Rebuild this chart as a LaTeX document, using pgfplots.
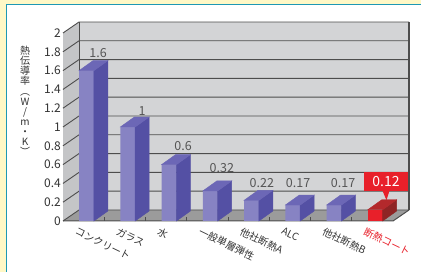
\documentclass[border=0pt]{standalone}
\usepackage{pgfplots}
\pgfplotsset{compat=1.18}
\usepackage{pgfplotstable}
\usepackage{fontspec}
\setmainfont{Noto Sans CJK JP}
\definecolor{bgyel}{HTML}{FFF8C6}
\definecolor{frameteal}{HTML}{1E98B4}
\definecolor{wallback}{HTML}{D3D4D6}
\definecolor{wallside}{HTML}{C4C5C7}
\definecolor{floorg}{HTML}{9B9B9B}
\definecolor{gridd}{HTML}{4D4D4D}
\definecolor{pfront}{HTML}{8783C3}
\definecolor{pside}{HTML}{5450A4}
\definecolor{ptop}{HTML}{6C67B6}
\definecolor{rfront}{HTML}{E8202A}
\definecolor{rside}{HTML}{8E2425}
\definecolor{rtop}{HTML}{B3292C}
\definecolor{tickc}{HTML}{333333}
\definecolor{valc}{HTML}{555555}
\pgfdeclareplotmark{empty}{}

\pgfplotstableread{
x y
0.57 1.6
1.57 1
2.57 0.6
3.57 0.32
4.57 0.22
5.57 0.17
6.57 0.17
}\purpletab
\pgfplotstableread{
x y
7.57 0.12
}\redtab

\pgfplotsset{
  side3d/.style 2 args={scatter, only marks, mark=empty,
    visualization depends on={rawy \as \val},
    scatter/@pre marker code/.code={%
      \pgfmathsetlengthmacro\barh{\val*94pt}%
      \fill[#1] (0pt,0pt) -- (14pt,10pt) -- (14pt,10pt-\barh) -- (0pt,-\barh) -- cycle;
      \fill[#2] (0pt,0pt) -- (14pt,10pt) -- (-0.85pt,10pt) -- (-14.85pt,0pt) -- cycle;
    },
    scatter/@post marker code/.code={}}
}
\tikzset{vlab/.style={font=\fontsize{12.5}{12.5}\selectfont, text=valc, inner sep=0pt}}

\begin{document}
\begin{tikzpicture}
\fill[bgyel] (0,0) rectangle (421pt,272pt);
\fill[white] (6.5pt,0) rectangle (421pt,267.5pt);
\draw[frameteal, line width=1.3pt] (6.5pt,0) -- (6.5pt,267.5pt) -- (421pt,267.5pt);

\begin{axis}[at={(63pt,51pt)}, anchor=south west, scale only axis,
  width=330pt, height=188pt,
  xmin=0, xmax=8, ymin=0, ymax=2, clip=false,
  axis lines=left, axis line style={draw=none}, major tick length=0pt, tick style={draw=none},
  ytick={0,0.2,0.4,0.6,0.8,1,1.2,1.4,1.6,1.8,2},
  yticklabels={0,0.2,0.4,0.6,0.8,1,1.2,1.4,1.6,1.8,2},
  y tick label style={anchor=east, inner sep=0pt, xshift=-2pt, font=\fontsize{12}{12}\selectfont, text=tickc},
  xtick={0.42,1.42,2.42,3.42,4.42,5.42,6.42,7.42},
  xticklabels={コンクリート,ガラス,水,一般単層弾性,他社断熱A,ALC,他社断熱B,\textcolor{rfront}{断熱コート}},
  x tick label style={rotate=-26, anchor=north west, inner sep=0pt, yshift=-6pt, font=\fontsize{10}{11}\selectfont, text=tickc},
]
% walls
\fill[wallback] ([shift={(16pt,11pt)}]axis cs:0,0) rectangle ([shift={(16pt,11pt)}]axis cs:8,2);
\fill[wallside] (axis cs:0,0) -- ([shift={(16pt,11pt)}]axis cs:0,0) -- ([shift={(16pt,11pt)}]axis cs:0,2) -- (axis cs:0,2) -- cycle;
\fill[floorg] (axis cs:0,0) -- (axis cs:8,0) -- ([shift={(16pt,11pt)}]axis cs:8,0) -- ([shift={(16pt,11pt)}]axis cs:0,0) -- cycle;
\pgfplotsinvokeforeach{0,0.2,0.4,0.6,0.8,1,1.2,1.4,1.6,1.8,2}{
  \draw[gridd, line width=0.9pt] (axis cs:0,#1) -- ++(16pt,11pt) -- ++(330pt,0pt);
}
\draw[gridd, line width=0.8pt] ([shift={(16pt,11pt)}]axis cs:0,0) -- ([shift={(16pt,11pt)}]axis cs:0,2);
\draw[gridd, line width=1.6pt] ([shift={(16pt,11pt)}]axis cs:8,0) -- ([shift={(16pt,11pt)}]axis cs:8,2);
\pgfplotsinvokeforeach{1,2,3,4,5,6,7}{
  \draw[gridd, line width=0.8pt] (axis cs:#1,0) -- ++(0pt,3.5pt);
}
\draw[gridd, line width=1pt] (axis cs:0,0) -- (axis cs:8,0) -- ++(16pt,11pt);

% bars
\addplot[ybar, bar width=0.36, bar shift=0pt, fill=pfront, draw=none] table {\purpletab};
\addplot[side3d={pside}{ptop}] table[x expr=\thisrow{x}+0.18, y=y] {\purpletab};
\addplot[ybar, bar width=0.36, bar shift=0pt, fill=rfront, draw=none] table {\redtab};
\addplot[side3d={rside}{rtop}] table[x expr=\thisrow{x}+0.18, y=y] {\redtab};

% value labels
\node[vlab] at (axis cs:0.85,1.787) {1.6};
\node[vlab] at (axis cs:1.915,1.17) {1};
\node[vlab] at (axis cs:2.91,0.80) {0.6};
\node[vlab] at (axis cs:3.85,0.564) {0.32};
\node[vlab] at (axis cs:4.82,0.404) {0.22};
\node[vlab] at (axis cs:5.70,0.404) {0.17};
\node[vlab] at (axis cs:6.79,0.404) {0.17};
\node[fill=rfront, text=white, font=\fontsize{14}{14}\selectfont, minimum width=44pt, minimum height=19pt, inner sep=0pt] (lab) at (axis cs:7.83,0.42) {0.12};
\fill[rfront] ([xshift=-3.5pt,yshift=0.5pt]lab.south) -- ++(7pt,0) -- ++(-3pt,-9.5pt) -- cycle;
\end{axis}

\node[align=center, font=\fontsize{10}{10.1}\selectfont, text=tickc, inner sep=0pt] at (25pt,171pt) {熱\\伝\\導\\率\\︵\\W\\/\\m\\・\\K\\︶};

\pgfresetboundingbox
\path[use as bounding box] (0,0) rectangle (421pt,272pt);
\end{tikzpicture}
\end{document}
